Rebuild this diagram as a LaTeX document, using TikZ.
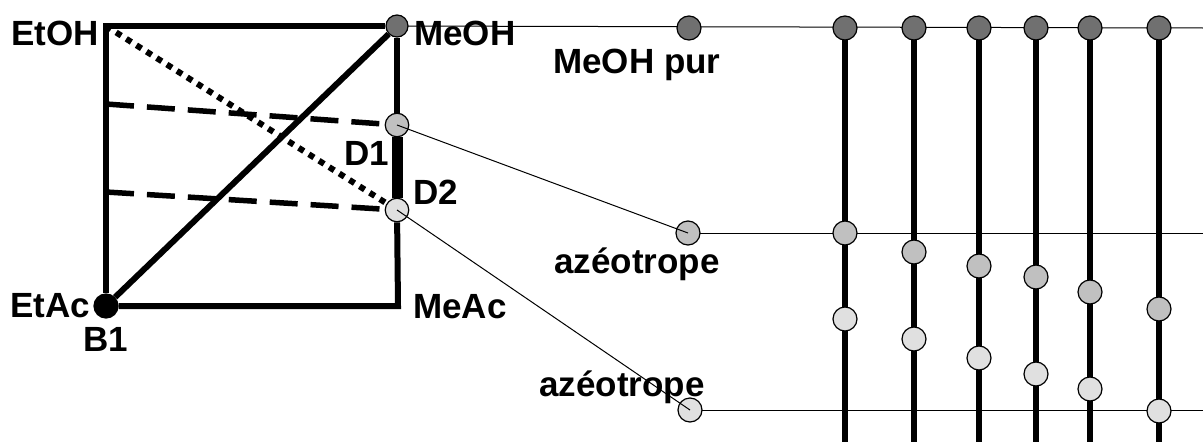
\documentclass[tikz,border=0pt]{standalone}
\usepackage{fontspec}
\setmainfont{Liberation Sans}
\usepackage{tikz}
\usetikzlibrary{positioning, backgrounds}
\definecolor{purgray}{HTML}{707070}
\definecolor{azgray}{HTML}{C0C0C0}
\definecolor{lowgray}{HTML}{E0E0E0}

\tikzset{
  dot/.style={circle, draw=black, line width=1.2pt, minimum size=24pt, inner sep=0pt},
  purdot/.style={dot, fill=purgray},
  azdot/.style={dot, fill=azgray},
  lowdot/.style={dot, fill=lowgray},
  lbl/.style={font=\bfseries\fontsize{35}{40}\selectfont, inner sep=0pt},
  side/.style={line width=6pt},
  tie/.style={line width=5.5pt, dash pattern=on 28pt off 13pt},
  dots/.style={line width=6pt, dash pattern=on 6pt off 6pt},
  feed/.style={line width=1pt},
  column/.style={line width=6pt}
}

\begin{document}
\begin{tikzpicture}[x=1pt, y=-1pt]
      \useasboundingbox (0,0) rectangle (1203,442);
      % Triangle corners and boundary points
      \coordinate (etohc) at (106,26);
      \coordinate (meacc) at (398,306);
      \coordinate (tieA) at (106,104);
      \coordinate (tieB) at (106,192);
      \node[dot, fill=black, minimum size=24pt] (etac) at (106,306) {};
      \node[purdot, minimum size=22pt] (meoh) at (397,26) {};
      \node[azdot, minimum size=23.5pt] (d1) at (397,125) {};
      \node[lowdot, minimum size=23.5pt] (d2) at (397,210) {};

      % Product streams
      \node[purdot] (pur) at (689,28) {};
      \node[azdot] (az1) at (688,233) {};
      \node[lowdot] (az2) at (690,410) {};
      \coordinate (endpur) at (1203,28);
      \coordinate (endaz) at (1203,233);
      \coordinate (endlow) at (1203,410);

      % Columns
      \foreach \i/\x/\ya/\yb in {1/845/233/319, 2/914/252/339, 3/979/266/358, 4/1036/277/374, 5/1090/292/389, 6/1159/309/411} {
        \node[purdot] (top\i) at (\x,28) {};
        \node[azdot] (up\i) at (\x,\ya) {};
        \node[lowdot] (lo\i) at (\x,\yb) {};
        \coordinate (foot\i) at (\x,442);
      }

      % Labels
      \node[lbl, anchor=east] (etohlbl) at (99,33) {EtOH};
      \node[lbl, anchor=west] (meohlbl) at (414,33) {MeOH};
      \node[lbl] (d1lbl) at (367,153) {D1};
      \node[lbl] (d2lbl) at (436,192) {D2};
      \node[lbl, left=3pt of etac] (etaclbl) {EtAc};
      \node[lbl, below=9pt of etac] (b1lbl) {B1};
      \node[lbl, anchor=west] (meaclbl) at (413,307) {MeAc};
      \node[lbl, anchor=west] (purlbl) at (553,65) {MeOH pur};
      \node[lbl, anchor=west] (az1lbl) at (554,264) {azéotrope};
      \node[lbl, anchor=west] (az2lbl) at (539,387) {azéotrope};

      % Connections
      \begin{scope}[on background layer]
        \foreach \i in {1,...,6}
          \draw[column] (top\i.center) -- (foot\i);
        \draw[feed] (meoh.center) -- (endpur);
        \draw[feed] (az1.center) -- (endaz);
        \draw[feed] (az2.center) -- (endlow);
      \end{scope}
      \draw[side] (meoh) -- (etohc) -- (etac);
      \draw[side] (d2) -- (meacc) -- (etac);
      \draw[side] (meoh) -- (d1);
      \draw[line width=11pt] (d1) -- (d2);
      \draw[side] (etac) -- (meoh);
      \draw[tie] (tieA) -- (d1);
      \draw[tie] (tieB) -- (d2);
      \draw[dots] (etohc) -- (d2);
      \draw[feed] (d1.center) -- (az1.center);
      \draw[feed] (d2.center) -- (az2.center);
    \end{tikzpicture}
\end{document}
